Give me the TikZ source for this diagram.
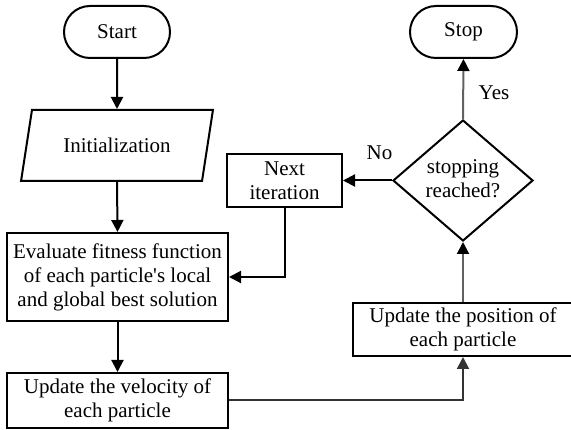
\documentclass[tikz,border=0pt]{standalone}
\usepackage{fontspec}
\setmainfont{Liberation Serif}
\usetikzlibrary{shapes.geometric,arrows.meta}
\tikzset{
  x=1pt, y=-1pt,
  base/.style={font=\fontsize{21}{24}\selectfont, align=center, inner sep=0pt, line width=2pt},
  term/.style={base, draw, rounded corners=26pt, minimum height=52pt},
  procbox/.style={base, draw, minimum height=53pt},
  iobox/.style={base, draw, trapezium, trapezium left angle=65, trapezium right angle=115, trapezium stretches=true},
  decbox/.style={base, draw, diamond, minimum width=140pt, minimum height=121pt},
  conn/.style={line width=2pt, -{Triangle[length=12pt,width=12pt]}},
  conng/.style={conn, draw=black!62, -{Triangle[length=12pt,width=12pt,fill=black,color=black]}},
  lbl/.style={font=\fontsize{21}{24}\selectfont, inner sep=0pt}
}
\begin{document}
\begin{tikzpicture}
\clip (0,0) rectangle (571,430);
\fill[white] (0,0) rectangle (571,430);
\node[term, minimum width=106pt] (start) at (117,32) {Start};
\node[term, minimum width=107pt] (stop) at (463.5,32) {Stop};
\node[iobox, minimum width=192pt, minimum height=71pt] (init) at (117,145.5) {Initialization};
\node[procbox, minimum width=221pt, minimum height=88pt] (eval) at (117.5,277) {Evaluate fitness function\\of each particle\textquotesingle s local\\and global best solution};
\node[procbox, minimum width=221pt, minimum height=55pt] (vel) at (117.5,400.5) {Update the velocity of\\each particle};
\node[procbox, minimum width=220pt] (pos) at (463,329.5) {Update the position of\\each particle};
\node[decbox] (dec) at (463,180.5) {};
\node[base, align=center] (dectext) at (463,179) {stopping\\reached?};
\node[procbox, minimum width=115pt] (next) at (284.5,180.5) {Next\\iteration};
\node[lbl] (yes) at (494,93) {Yes};
\node[lbl] (no) at (379.5,153) {No};
\draw[conn] (start.south) -- (init.north);
\draw[conn] (init.south) -- (eval.north);
\draw[conn] (eval.south) -- (vel.north);
\draw[conn, draw=black!80] (vel.east) -| (pos.south);
\draw[conng] (pos.north) -- (dec.south);
\draw[conng] (dec.north) -- (stop.south);
\draw[conn] (dec.west) -- (next.east);
\draw[conn] (next.south) |- (eval.east);
\end{tikzpicture}
\end{document}
